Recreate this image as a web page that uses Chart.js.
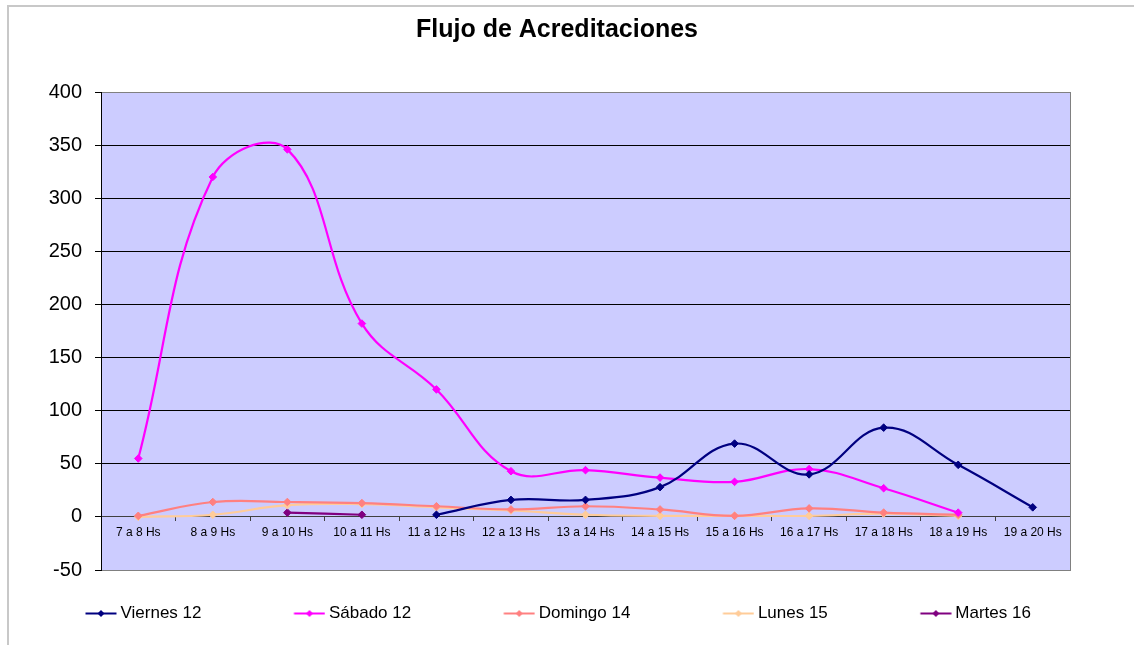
<!DOCTYPE html>
<html>
<head>
<meta charset="utf-8">
<script src="https://cdn.jsdelivr.net/npm/chart.js@4.4.1/dist/chart.umd.min.js"></script>
<style>
html,body{margin:0;padding:0;background:#fff;width:1134px;height:645px;overflow:hidden;position:relative;}
#frame{position:absolute;left:7px;top:5px;width:1140px;height:660px;border-left:2px solid #C8C8C8;border-top:2px solid #C8C8C8;}
#wrap{position:absolute;left:-7px;top:0;width:1128px;height:632px;}
</style>
</head>
<body>
<div id="frame"></div>
<div id="wrap"><canvas id="c" width="1128" height="632"></canvas></div>
<script>
// ---- data ----
const categories = ["7 a 8 Hs","8 a 9 Hs","9 a 10 Hs","10 a 11 Hs","11 a 12 Hs","12 a 13 Hs","13 a 14 Hs","14 a 15 Hs","15 a 16 Hs","16 a 17 Hs","17 a 18 Hs","18 a 19 Hs","19 a 20 Hs"];
const seriesNames = ["Viernes 12","Sábado 12","Domingo 14","Lunes 15","Martes 16"];
const viernes = [null,null,null,null,2,16,16,28,69,40,84,49,9];
const sabado  = [55,320,346,182,120,43,44,37,33,45,27,4,null];
const domingo = [1,14,14,13,10,7,10,7,1,8,4,2,null];
const lunes   = [0,2,11,12,9,6,2,1,1,1,3,1,null];
const martes  = [null,null,4,2,null,null,null,null,null,null,null,null,null];
const yTicks  = [-50,0,50,100,150,200,250,300,350,400];
const chartTitle = "Flujo de Acreditaciones";

// ---- styles ----
const FONT = '"Liberation Sans", Arial, Helvetica, sans-serif';
Chart.defaults.font.family = FONT;
Chart.defaults.color = '#000';
const colors = ['#000080','#FF00FF','#FF8080','#FFCC99','#800080'];
const seriesData = [viernes, sabado, domingo, lunes, martes];

const LEG_W = 117, LEG_O = 5, LEG_A = 90.5;
function legendSymbol(color){
  const c = document.createElement('canvas');
  c.width = LEG_W + 2*LEG_O; c.height = 11;
  const g = c.getContext('2d');
  const x0 = LEG_O + LEG_A, x1 = x0 + 31, cy = 5.5, cx = (x0 + x1)/2;
  g.strokeStyle = color; g.lineWidth = 2;
  g.beginPath(); g.moveTo(x0, cy); g.lineTo(x1, cy); g.stroke();
  g.fillStyle = color;
  g.beginPath(); g.moveTo(cx, cy-3.5); g.lineTo(cx+3.5, cy); g.lineTo(cx, cy+3.5); g.lineTo(cx-3.5, cy); g.closePath(); g.fill();
  return c;
}
const symbols = colors.map(legendSymbol);

const bgPlugin = {
  id: 'plotBg',
  beforeDraw(chart){
    const {ctx, chartArea:a} = chart;
    ctx.save();
    ctx.fillStyle = '#CCCCFF';
    ctx.fillRect(a.left, a.top, a.right - a.left, a.bottom - a.top);
    ctx.restore();
  }
};

const datasets = seriesNames.map((name, i) => ({
  label: name,
  data: seriesData[i],
  borderColor: colors[i],
  backgroundColor: colors[i],
  pointBackgroundColor: colors[i],
  pointBorderColor: colors[i],
  borderWidth: 2.2,
  pointStyle: 'rectRot',
  pointRadius: 3.8,
  pointBorderWidth: 1,
  tension: 0.4,
  fill: false,
  spanGaps: false,
  xAxisID: 'x',
  yAxisID: 'y'
}));

new Chart(document.getElementById('c'), {
  type: 'line',
  data: { labels: categories, datasets },
  options: {
    responsive: false,
    animation: false,
    devicePixelRatio: 1,
    layout: { padding: 0 },
    scales: {
      x: {
        type: 'category',
        position: { y: 0 },
        offset: true,
        grid: { display: true, offset: true, drawOnChartArea: false, drawTicks: true, tickLength: 4, color: '#404040' },
        border: { display: true, color: '#404040', width: 1 },
        ticks: { color: '#000', font: { size: 12 }, padding: 5, maxRotation: 0, autoSkip: false }
      },
      x2: {
        type: 'linear', axis: 'x', position: 'bottom', display: true,
        grid: { display: false }, border: { display: false }, ticks: { display: false },
        afterFit(s){ s.height = 33; }
      },
      y: {
        type: 'linear', position: 'left', min: -50, max: 400,
        afterBuildTicks(s){ s.ticks = yTicks.map(v => ({ value: v })); },
        ticks: { color: '#000', font: { size: 20 }, padding: 13 },
        grid: {
          drawTicks: true, tickLength: 6, lineWidth: 1,
          color: c => (c.tick && (c.tick.value === 400 || c.tick.value === -50)) ? '#808080' : '#000',
          tickColor: '#000'
        },
        border: { display: true, color: '#000', width: 1 },
        afterFit(s){ s.width = 108; }
      },
      yR: {
        type: 'linear', position: 'right', display: true,
        grid: { display: false }, ticks: { display: false },
        border: { display: true, color: '#808080', width: 1 },
        afterFit(s){ s.width = 51; }
      }
    },
    plugins: {
      title: {
        display: true, text: chartTitle, color: '#000',
        font: { size: 25, weight: 'bold' },
        padding: { top: 15, bottom: 47 }
      },
      legend: {
        display: true, position: 'bottom', align: 'start',
        labels: {
          color: '#000', font: { size: 17 }, padding: 2,
          usePointStyle: true, pointStyleWidth: LEG_W,
          generateLabels(chart){
            const items = Chart.defaults.plugins.legend.labels.generateLabels(chart);
            items.forEach((it, i) => { it.pointStyle = symbols[i]; it.fontColor = '#000'; });
            return items;
          }
        }
      },
      tooltip: { enabled: false }
    }
  },
  plugins: [bgPlugin]
});
</script>
</body>
</html>
